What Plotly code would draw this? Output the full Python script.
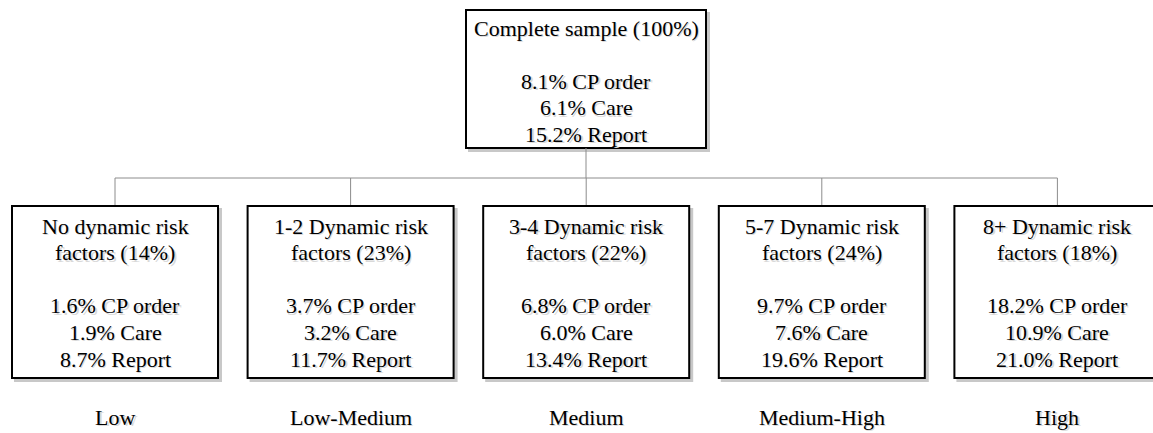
import plotly.graph_objects as go

# ---- data ----
groups = ["No dynamic risk", "1-2 Dynamic risk", "3-4 Dynamic risk", "5-7 Dynamic risk", "8+ Dynamic risk"]
group_share = [14, 23, 22, 24, 18]
cp_order = [1.6, 3.7, 6.8, 9.7, 18.2]
care = [1.9, 3.2, 6.0, 7.6, 10.9]
report = [8.7, 11.7, 13.4, 19.6, 21.0]
risk_levels = ["Low", "Low-Medium", "Medium", "Medium-High", "High"]
total_label = "Complete sample (100%)"
total_cp, total_care, total_report = 8.1, 6.1, 15.2

# ---- layout constants (pixels) ----
W, H = 1153, 433
FONT = "Liberation Serif"
FS = 22
top_box = (466, 10, 706, 148)
bus_y = 178
box_top, box_bot = 206, 378
box_w = 206
first_center = 115
step = 235.6
line_gap = 26.6

fig = go.Figure()
shapes = []
annots = []

def box(x0, y0, x1, y1):
    shapes.append(dict(type="rect", x0=x0 + 3, y0=y0 + 3, x1=x1 + 3, y1=y1 + 3,
                       line=dict(color="#c8c8c8", width=2), fillcolor="#c8c8c8", layer="below"))
    shapes.append(dict(type="rect", x0=x0, y0=y0, x1=x1, y1=y1,
                       line=dict(color="black", width=2), fillcolor="white", layer="below"))

def text(x, y, s):
    annots.append(dict(x=x + 1.5, y=y + 1.5, text=s, showarrow=False, xanchor="center", yanchor="middle",
                       font=dict(family=FONT, size=FS, color="#d9d9d9")))
    annots.append(dict(x=x, y=y, text=s, showarrow=False, xanchor="center", yanchor="middle",
                       font=dict(family=FONT, size=FS, color="black")))

tx0, ty0, tx1, ty1 = top_box
tcx = (tx0 + tx1) / 2
box(tx0, ty0, tx1, ty1)
top_lines = [total_label, "", f"{total_cp:.1f}% CP order", f"{total_care:.1f}% Care", f"{total_report:.1f}% Report"]
for i, s in enumerate(top_lines):
    if s:
        text(tcx, 28 + i * line_gap, s)

centers = [first_center + i * step for i in range(len(groups))]

line_style = dict(color="#8c8c8c", width=1)
shapes.append(dict(type="line", x0=tcx, y0=ty1, x1=tcx, y1=bus_y, line=line_style, layer="below"))
shapes.append(dict(type="line", x0=centers[0], y0=bus_y, x1=centers[-1], y1=bus_y, line=line_style, layer="below"))
for c in centers:
    shapes.append(dict(type="line", x0=c, y0=bus_y, x1=c, y1=box_top, line=line_style, layer="below"))

for i, c in enumerate(centers):
    box(c - box_w / 2, box_top, c + box_w / 2, box_bot)
    lines = [groups[i], f"factors ({group_share[i]}%)", "",
             f"{cp_order[i]:.1f}% CP order", f"{care[i]:.1f}% Care", f"{report[i]:.1f}% Report"]
    for j, s in enumerate(lines):
        if s:
            text(c, 226 + j * line_gap, s)
    text(c, 417, risk_levels[i])

fig.update_layout(
    width=W, height=H, margin=dict(l=0, r=0, t=0, b=0),
    paper_bgcolor="white", plot_bgcolor="white",
    shapes=shapes, annotations=annots, showlegend=False,
    xaxis=dict(range=[0, W], visible=False, fixedrange=True),
    yaxis=dict(range=[H, 0], visible=False, fixedrange=True),
)
fig.write_html("out.html", config={"displayModeBar": False},
               post_script="document.body.style.margin='0';document.body.style.overflow='hidden';")
